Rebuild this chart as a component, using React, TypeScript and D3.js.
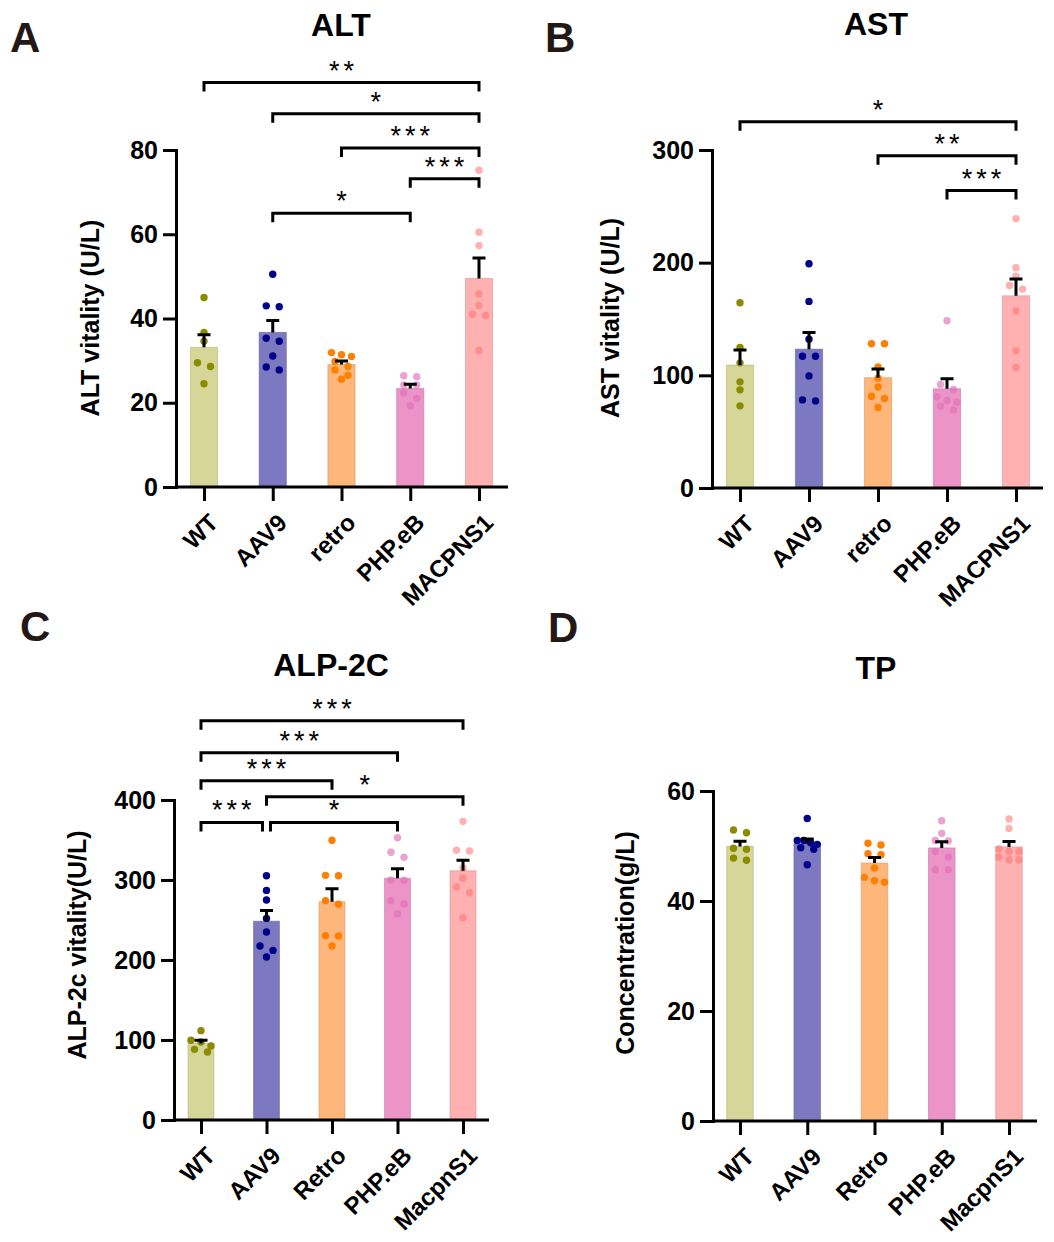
import React, { useEffect, useRef } from 'react';
import * as d3 from 'd3';

// group names as printed under each panel
const GROUPS_AB = ['WT', 'AAV9', 'retro', 'PHP.eB', 'MACPNS1'];
const GROUPS_CD = ['WT', 'AAV9', 'Retro', 'PHP.eB', 'MacpnS1'];

// individual animals, one array per group
const ALT_VALUES = [
  [45.0, 36.7, 34.6, 29.5, 28.6, 24.5],
  [50.5, 43.0, 42.8, 35.3, 34.6, 31.1, 27.8, 28.5],
  [31.9, 31.4, 31.0, 29.8, 28.6, 27.8, 26.5, 25.6],
  [26.4, 26.2, 24.2, 24.2, 22.3, 21.0, 19.3],
  [75.2, 60.5, 57.3, 45.8, 43.1, 41.0, 40.7, 32.4],
];
const AST_VALUES = [
  [164.4, 124.7, 111.1, 94.2, 87.1, 72.9],
  [199.0, 165.6, 132.1, 117.0, 117.0, 99.5, 77.3, 78.2],
  [128.0, 128.0, 107.5, 97.5, 89.7, 81.5, 79.4, 71.4],
  [148.4, 91.9, 87.4, 80.9, 77.6, 76.1, 72.6, 69.3],
  [239.0, 195.5, 188.0, 179.8, 176.5, 157.2, 121.7, 107.0],
];
const ALP_VALUES = [
  [111.7, 99.6, 97.5, 92.5, 88.3, 85.0],
  [305.4, 287.0, 275.0, 252.0, 235.0, 217.5, 212.0, 203.7],
  [349.6, 305.8, 305.4, 274.2, 269.6, 230.4, 230.0, 217.5],
  [352.9, 334.6, 328.3, 300.0, 299.6, 274.2, 270.0, 257.9],
  [373.3, 337.1, 336.2, 315.0, 302.1, 291.2, 284.2, 252.9],
];
const TP_VALUES = [
  [52.9, 52.4, 49.6, 49.4, 47.8, 47.4],
  [55.0, 51.0, 51.0, 50.6, 50.3, 49.7, 49.4, 46.6],
  [50.5, 50.2, 48.6, 48.4, 46.0, 44.3, 43.7, 43.4],
  [54.6, 52.3, 51.0, 50.9, 49.0, 48.0, 45.7, 45.7],
  [54.9, 53.2, 49.5, 49.0, 49.0, 48.0, 47.5, 47.5],
];

// significance brackets, level given in axis units
const ALT_BRACKETS = [
  { from: 'WT', to: 'MACPNS1', at: 96, mark: '**' },
  { from: 'AAV9', to: 'MACPNS1', at: 88.6, mark: '*' },
  { from: 'retro', to: 'MACPNS1', at: 80.5, mark: '***' },
  { from: 'PHP.eB', to: 'MACPNS1', at: 73.2, mark: '***' },
  { from: 'AAV9', to: 'PHP.eB', at: 65, mark: '*' },
];
const AST_BRACKETS = [
  { from: 'WT', to: 'MACPNS1', at: 325, mark: '*' },
  { from: 'retro', to: 'MACPNS1', at: 295, mark: '**' },
  { from: 'PHP.eB', to: 'MACPNS1', at: 264, mark: '***' },
];
const ALP_BRACKETS = [
  { from: 'WT', to: 'MacpnS1', at: 499, mark: '***' },
  { from: 'WT', to: 'PHP.eB', at: 459, mark: '***' },
  { from: 'WT', to: 'Retro', at: 424, mark: '***' },
  { from: 'AAV9', to: 'MacpnS1', at: 404, mark: '*' },
  { from: 'WT', to: 'AAV9', at: 372, mark: '***' },
  { from: 'AAV9', to: 'PHP.eB', at: 372, mark: '*' },
];

const BAR_FILLS = ['#d6d698', '#7c79c1', '#feb67a', '#ec93c8', '#ffb1b1'];
const POINT_FILLS = ['#8b8b00', '#00008b', '#ff8000', '#e070b8', '#ff7070'];
const POINT_OPACITY = [1, 1, 1, 0.65, 0.55];

const FONT = "'Liberation Sans', Arial, Helvetica, sans-serif";

type Bracket = { from: string; to: string; at: number; mark: string };

interface PanelConfig {
  letter: string;
  title: string;
  yLabel: string;
  groups: string[];
  values: number[][];
  brackets: Bracket[];
  max: number;
  step: number;
  left: number;
  right: number;
  top: number;
  bottom: number;
  first: number;
  last: number;
  titleX: number;
  titleY: number;
  letterX: number;
  letterY: number;
  yLabelX: number;
  yLabelY: number;
}

const PANELS: PanelConfig[] = [
  {
    letter: 'A', title: 'ALT', yLabel: 'ALT vitality (U/L)',
    groups: GROUPS_AB, values: ALT_VALUES, brackets: ALT_BRACKETS, max: 80, step: 20,
    left: 176, right: 508, top: 150, bottom: 487, first: 204, last: 479,
    titleX: 341, titleY: 36, letterX: 10, letterY: 52, yLabelX: 99, yLabelY: 318,
  },
  {
    letter: 'B', title: 'AST', yLabel: 'AST vitality (U/L)',
    groups: GROUPS_AB, values: AST_VALUES, brackets: AST_BRACKETS, max: 300, step: 100,
    left: 712, right: 1043, top: 150, bottom: 488, first: 740, last: 1016,
    titleX: 876, titleY: 35, letterX: 545, letterY: 52, yLabelX: 619, yLabelY: 318,
  },
  {
    letter: 'C', title: 'ALP-2C', yLabel: 'ALP-2c vitality(U/L)',
    groups: GROUPS_CD, values: ALP_VALUES, brackets: ALP_BRACKETS, max: 400, step: 100,
    left: 174, right: 489, top: 800, bottom: 1120, first: 201, last: 463,
    titleX: 331, titleY: 676, letterX: 20, letterY: 641, yLabelX: 86, yLabelY: 945,
  },
  {
    letter: 'D', title: 'TP', yLabel: 'Concentration(g/L)',
    groups: GROUPS_CD, values: TP_VALUES, brackets: [], max: 60, step: 20,
    left: 713, right: 1037, top: 791, bottom: 1121, first: 740, last: 1009,
    titleX: 876, titleY: 679, letterX: 548, letterY: 642, yLabelX: 634, yLabelY: 943,
  },
];

// GraphPad-like scatter: points closer than ~6px vertically sit side by side
function swarm(values: number[], y: d3.ScaleLinear<number, number>) {
  const pts = values.map(v => ({ v, py: y(v), dx: 0 })).sort((a, b) => a.py - b.py);
  const rows: typeof pts[] = [];
  pts.forEach(p => {
    const row = rows[rows.length - 1];
    if (row && p.py - row[0].py < 6) row.push(p);
    else rows.push([p]);
  });
  rows.forEach(row => {
    const n = row.length;
    const gap = n === 1 ? 0 : Math.min(13, 20 / (n - 1));
    row.forEach((p, i) => { p.dx = (i - (n - 1) / 2) * gap; });
  });
  return pts;
}

function drawPanel(root: d3.Selection<SVGSVGElement, unknown, null, undefined>, cfg: PanelConfig) {
  const g = root.append('g');

  const x = d3.scalePoint<string>().domain(cfg.groups).range([cfg.first, cfg.last]);
  const y = d3.scaleLinear().domain([0, cfg.max]).range([cfg.bottom, cfg.top]);
  const barW = x.step() * 0.395;

  const stats = cfg.values.map(vals => {
    const mean = d3.mean(vals) as number;
    const sem = (d3.deviation(vals) as number) / Math.sqrt(vals.length);
    return { mean, sem };
  });

  // Bars
  g.selectAll('rect.bar')
    .data(cfg.groups)
    .join('rect')
    .attr('class', 'bar')
    .attr('x', d => (x(d) as number) - barW / 2)
    .attr('width', barW)
    .attr('y', (d, i) => y(stats[i].mean))
    .attr('height', (d, i) => y(0) - y(stats[i].mean))
    .attr('fill', (d, i) => BAR_FILLS[i])
    .attr('stroke', (d, i) => d3.color(BAR_FILLS[i])!.darker(0.5).formatHex())
    .attr('stroke-opacity', 0.6)
    .attr('stroke-width', 1);

  // Individual points
  cfg.groups.forEach((name, i) => {
    const cx = x(name) as number;
    g.append('g')
      .selectAll('circle')
      .data(swarm(cfg.values[i], y))
      .join('circle')
      .attr('cx', d => cx + d.dx)
      .attr('cy', d => d.py)
      .attr('r', 3.7)
      .attr('fill', POINT_FILLS[i])
      .attr('fill-opacity', POINT_OPACITY[i]);
  });

  // Error bars (mean + SEM)
  g.selectAll('path.err')
    .data(cfg.groups)
    .join('path')
    .attr('class', 'err')
    .attr('d', (d, i) => {
      const cx = x(d) as number;
      const y0 = y(stats[i].mean);
      const y1 = y(stats[i].mean + stats[i].sem);
      return `M${cx},${y0}V${y1}M${cx - 6.5},${y1}H${cx + 6.5}`;
    })
    .attr('fill', 'none')
    .attr('stroke', '#000')
    .attr('stroke-width', 3);

  // Y axis
  const yAxis = g.append('g')
    .attr('transform', `translate(${cfg.left},0)`)
    .call(
      d3.axisLeft(y)
        .tickValues(d3.range(0, cfg.max + 1, cfg.step))
        .tickSize(13)
        .tickSizeOuter(0)
        .tickPadding(5)
        .tickFormat(d3.format('d'))
    );
  yAxis.select('.domain').attr('stroke-width', 3).attr('stroke-linecap', 'square');
  yAxis.selectAll('.tick line').attr('stroke-width', 3);
  yAxis.selectAll('.tick text')
    .attr('font-family', FONT)
    .attr('font-size', 25)
    .attr('font-weight', 'bold')
    .attr('fill', '#000');

  // X axis
  g.append('line')
    .attr('x1', cfg.left)
    .attr('x2', cfg.right)
    .attr('y1', y(0))
    .attr('y2', y(0))
    .attr('stroke', '#000')
    .attr('stroke-width', 3);

  const xAxis = g.append('g')
    .attr('transform', `translate(0,${y(0)})`)
    .call(d3.axisBottom(x).tickSize(14).tickSizeOuter(0));
  xAxis.select('.domain').remove();
  xAxis.selectAll('.tick line').attr('stroke-width', 3);
  xAxis.selectAll('.tick text')
    .attr('x', 0)
    .attr('y', 0)
    .attr('dy', '0.72em')
    .attr('transform', 'translate(3,25) rotate(-45)')
    .attr('text-anchor', 'end')
    .attr('font-family', FONT)
    .attr('font-size', 24)
    .attr('font-weight', 'bold')
    .attr('fill', '#000');

  // Significance brackets
  cfg.brackets.forEach(b => {
    let x1 = x(b.from) as number;
    let x2 = x(b.to) as number;
    // keep neighbouring brackets on the same level apart
    if (cfg.brackets.some(o => o !== b && o.at === b.at && o.from === b.to)) x2 -= 4;
    if (cfg.brackets.some(o => o !== b && o.at === b.at && o.to === b.from)) x1 += 4;
    const by = y(b.at);
    g.append('path')
      .attr('d', `M${x1},${by + 9}V${by}H${x2}V${by + 9}`)
      .attr('fill', 'none')
      .attr('stroke', '#000')
      .attr('stroke-width', 3);
    g.append('text')
      .attr('x', (x1 + x2) / 2 + 2)
      .attr('y', by - 3)
      .attr('text-anchor', 'middle')
      .attr('font-family', FONT)
      .attr('font-size', 27)
      .attr('letter-spacing', 4)
      .attr('fill', '#000')
      .text(b.mark);
  });

  // Titles and labels
  g.append('text')
    .attr('x', cfg.titleX)
    .attr('y', cfg.titleY)
    .attr('text-anchor', 'middle')
    .attr('font-family', FONT)
    .attr('font-size', 32)
    .attr('font-weight', 'bold')
    .text(cfg.title);

  g.append('text')
    .attr('x', cfg.letterX)
    .attr('y', cfg.letterY)
    .attr('font-family', FONT)
    .attr('font-size', 42)
    .attr('font-weight', 'bold')
    .attr('fill', '#231815')
    .text(cfg.letter);

  g.append('text')
    .attr('transform', `translate(${cfg.yLabelX},${cfg.yLabelY}) rotate(-90)`)
    .attr('text-anchor', 'middle')
    .attr('font-family', FONT)
    .attr('font-size', 25)
    .attr('font-weight', 'bold')
    .text(cfg.yLabel);
}

export default function App() {
  const svgRef = useRef<SVGSVGElement>(null);

  useEffect(() => {
    if (!svgRef.current) return;
    const svg = d3.select(svgRef.current);
    svg.selectAll('*').remove();
    PANELS.forEach(p => drawPanel(svg, p));
  }, []);

  return (
    <svg
      ref={svgRef}
      width={1054}
      height={1242}
      style={{ position: 'absolute', left: 0, top: 0, background: '#fff' }}
    />
  );
}
